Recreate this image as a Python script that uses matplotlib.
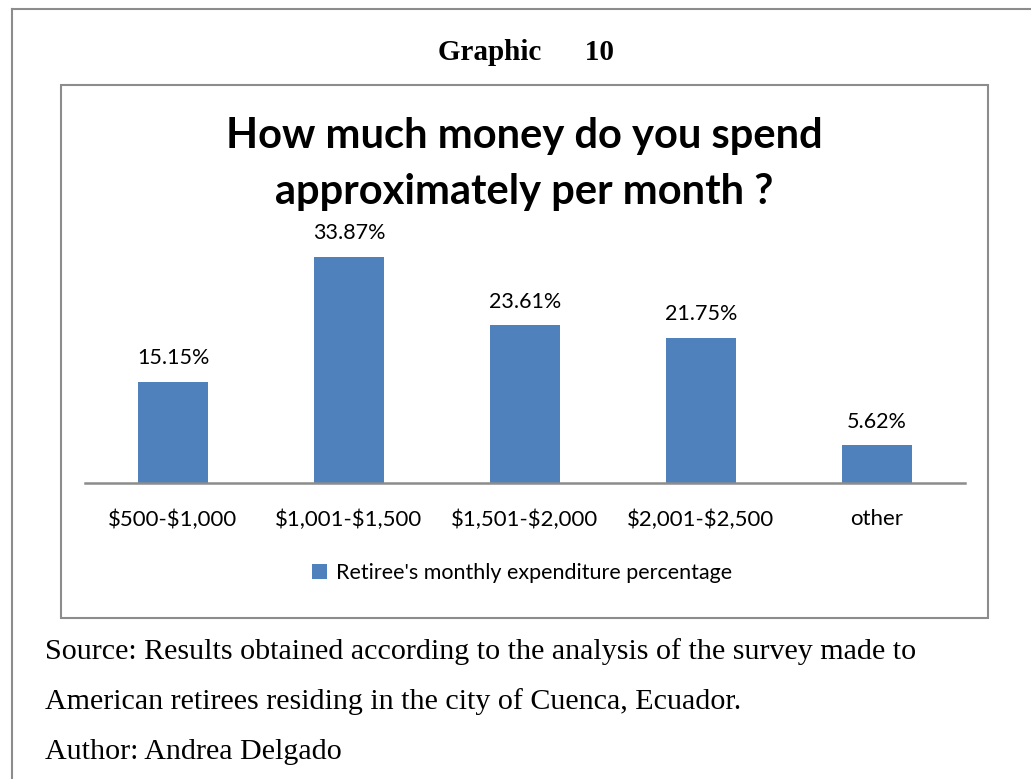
import matplotlib
matplotlib.use("Agg")
import matplotlib.pyplot as plt
from matplotlib.patches import Rectangle
from matplotlib.lines import Line2D

plt.rcParams["text.parse_math"] = False

categories = ["$500-$1,000", "$1,001-$1,500", "$1,501-$2,000", "$2,001-$2,500", "other"]
values = [15.15, 33.87, 23.61, 21.75, 5.62]
series_name = "Retiree's monthly expenditure percentage"

W, H = 1031, 779
fig = plt.figure(figsize=(W / 100, H / 100), dpi=100)

def fx(x):
    return x / W

def fy(y):
    return 1 - y / H

sans = ["Lato", "DejaVu Sans"]
serif = ["Liberation Serif", "DejaVu Serif"]
bar_color = "#4F81BD"
frame_color = "#8C8C8C"

# outer page frame (top and left edges)
fig.add_artist(Line2D([fx(12), 1.0], [fy(9), fy(9)], color="#8C8C8C", lw=1.5))
fig.add_artist(Line2D([fx(12), fx(12)], [fy(9), 0.0], color="#8C8C8C", lw=1.5))

# chart frame
fig.add_artist(Rectangle((fx(61), fy(618)), fx(988 - 61), (618 - 85) / H,
                         fill=False, edgecolor=frame_color, lw=1.5))

fig.text(fx(526), fy(52), "Graphic      10", family=serif, fontweight="bold",
         fontsize=21, ha="center", va="center")

fig.text(fx(524), fy(164), "How much money do you spend\napproximately per month ?",
         family=sans, fontweight="bold", fontsize=30, ha="center", va="center",
         linespacing=1.55)

# plot area
ax_left, ax_right = 85, 965
ax_top, ax_bottom = 220, 483
ax = fig.add_axes([fx(ax_left), fy(ax_bottom), fx(ax_right - ax_left), (ax_bottom - ax_top) / H])
x = list(range(len(categories)))
bars = ax.bar(x, values, width=0.40, color=bar_color, label=series_name, zorder=2)
ax.set_xlim(-0.5, len(categories) - 0.5)
ax.set_ylim(0, 39.4)
for s in ["top", "right", "left"]:
    ax.spines[s].set_visible(False)
ax.spines["bottom"].set_color("#8C8C8C")
ax.spines["bottom"].set_linewidth(1.8)
ax.set_yticks([])
ax.set_xticks(x)
ax.set_xticklabels(categories, family=sans, fontsize=16)
ax.tick_params(axis="x", length=0, pad=19)
ax.patch.set_alpha(0)

for xi, v in zip(x, values):
    ax.annotate(f"{v:.2f}%", (xi, v), xytext=(0, 10), textcoords="offset points",
                ha="center", va="bottom", family=sans, fontsize=15.5)

leg = fig.legend(handles=[bars], labels=[series_name], loc="center",
                 bbox_to_anchor=(fx(522), fy(573)), frameon=False,
                 prop={"family": sans, "size": 15.5}, handlelength=0.7,
                 handleheight=0.7, handletextpad=0.4)

src_lines = [
    "Source: Results obtained according to the analysis of the survey made to",
    "American retirees residing in the city of Cuenca, Ecuador.",
    "Author: Andrea Delgado",
]
for i, line in enumerate(src_lines):
    fig.text(fx(45), fy(652 + 50 * i), line, family=serif, fontsize=21.6,
             ha="left", va="center")

fig.savefig("out.png", dpi=100)
